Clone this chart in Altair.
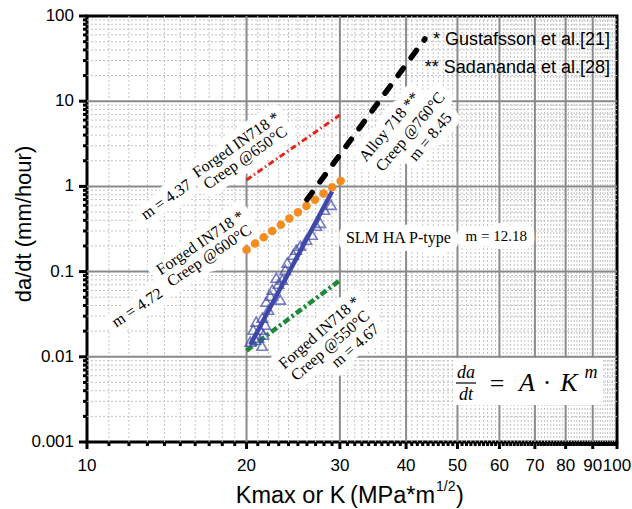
import altair as alt
import pandas as pd

# ---------------- data ----------------
red_k = [20.0, 30.0]
red_r = [1.19, 6.9]
orange_k = [20.0, 30.5]
orange_r = [0.18, 1.23]
green_k = [20.0, 30.0]
green_r = [0.0118, 0.079]
black_k = [26.0, 43.4]
black_r = [0.70, 53.7]
blue_k = [20.33, 29.0]
blue_r = [0.0139, 0.87]

tri_k = [28.87, 27.55, 26.58, 25.26, 24.50, 23.87, 23.36, 23.15, 22.18, 21.99,
         21.70, 21.51, 21.39, 21.05, 22.76, 22.37, 21.42, 20.86, 20.59, 25.94,
         27.08, 28.04, 23.67, 22.97, 21.79, 21.23, 20.33, 24.82, 20.78]
tri_r = [0.608, 0.374, 0.271, 0.201, 0.158, 0.127, 0.0804, 0.0469, 0.0522, 0.0357,
         0.0238, 0.0182, 0.0135, 0.0168, 0.0848, 0.0614, 0.0288, 0.0259, 0.0208, 0.237,
         0.345, 0.532, 0.105, 0.0721, 0.0444, 0.0208, 0.0151, 0.181, 0.0159]

x_ticks = [10, 20, 30, 40, 50, 60, 70, 80, 90, 100]
x_tick_labels = ["10", "20", "30", "40", "50", "60", "70", "80", "90", "100"]
y_ticks = [0.001, 0.01, 0.1, 1, 10, 100]
y_tick_labels = ["0.001", "0.01", "0.1", "1", "10", "100"]
x_major_grid = [20, 30, 40, 50, 60, 70, 80, 90]
y_major_grid = [0.01, 0.1, 1, 10]
x_minor = [k for k in range(11, 100) if k % 10 != 0]
y_minor = [m * 10.0 ** e for e in range(-3, 2) for m in range(2, 10)]

ann_text = ["Forged IN718 *", "Creep @650°C", "m = 4.37",
            "Forged IN718 *", "Creep @600°C", "m = 4.72",
            "Forged IN718 *", "Creep @550°C", "m = 4.67",
            "Alloy 718 **", "Creep @760°C", "m = 8.45",
            "SLM HA P-type", "m = 12.18"]
ann_k = [19.12, 19.89, 14.10, 16.36, 17.01, 12.44, 27.44, 28.78, 32.08,
         37.19, 40.74, 44.44, 38.68, 59.19]
ann_r = [3.075, 2.164, 0.70, 0.218, 0.1536, 0.0378, 0.01922, 0.01352, 0.01352,
         5.00, 4.37, 3.82, 0.2496, 0.2636]
ann_angle = [325, 325, 325, 326, 326, 326, 319, 319, 319, 310, 310, 310, 0, 0]
ann_size = [16, 16, 16, 16, 16, 16, 16, 16, 16, 16, 16, 16, 16, 15]

# ---------------- scales ----------------
xs = alt.Scale(type="log", domain=[10, 100])
ys = alt.Scale(type="log", domain=[0.001, 100])
SANS = "Liberation Sans"
SERIF = "Liberation Serif"


def xenc(field):
    return alt.X(field, type="quantitative", scale=xs, axis=None)


def yenc(field):
    return alt.Y(field, type="quantitative", scale=ys, axis=None)


# ---------------- grid ----------------
g_xmin = alt.Chart(pd.DataFrame({"k": x_minor})).mark_rule(
    color="#c2c2c2", strokeWidth=1, strokeDash=[2, 2]).encode(x=xenc("k"))
g_ymin = alt.Chart(pd.DataFrame({"r": y_minor})).mark_rule(
    color="#c2c2c2", strokeWidth=1, strokeDash=[2, 2]).encode(y=yenc("r"))
g_xmaj = alt.Chart(pd.DataFrame({"k": x_major_grid})).mark_rule(
    color="#8a8a8a", strokeWidth=2).encode(x=xenc("k"))
g_ymaj = alt.Chart(pd.DataFrame({"r": y_major_grid})).mark_rule(
    color="#8a8a8a", strokeWidth=2).encode(y=yenc("r"))

# ---------------- ticks and tick labels ----------------
t_ymaj = alt.Chart(pd.DataFrame({"r": y_ticks})).mark_rule(
    color="black", strokeWidth=3).encode(y=yenc("r"), x=alt.value(-8), x2=alt.value(0))
t_ymin = alt.Chart(pd.DataFrame({"r": y_minor})).mark_rule(
    color="black", strokeWidth=3).encode(y=yenc("r"), x=alt.value(-4), x2=alt.value(0))
t_xmaj = alt.Chart(pd.DataFrame({"k": x_ticks})).mark_rule(
    color="black", strokeWidth=3).encode(x=xenc("k"), y=alt.value(426), y2=alt.value(433))
t_xmin = alt.Chart(pd.DataFrame({"k": x_minor})).mark_rule(
    color="black", strokeWidth=3).encode(x=xenc("k"), y=alt.value(426), y2=alt.value(430))

xlab = alt.Chart(pd.DataFrame({"k": x_ticks, "t": x_tick_labels})).mark_text(
    font=SANS, fontSize=17, color="black", align="center", baseline="middle").encode(
    x=xenc("k"), y=alt.value(450), text="t:N")
ylab = alt.Chart(pd.DataFrame({"r": y_ticks, "t": y_tick_labels})).mark_text(
    font=SANS, fontSize=17, color="black", align="right", baseline="middle").encode(
    y=yenc("r"), x=alt.value(-13), text="t:N")

# ---------------- annotations ----------------
ann = pd.DataFrame({"k": ann_k, "r": ann_r, "t": ann_text, "a": ann_angle, "s": ann_size})
ann_enc = dict(x=xenc("k"), y=yenc("r"), text="t:N",
               angle=alt.Angle("a:Q", scale=None), size=alt.Size("s:Q", scale=None, legend=None))
halo = alt.Chart(ann).mark_text(font=SERIF, stroke="white", strokeWidth=16, strokeJoin="round",
                                fill="white", align="center", baseline="middle").encode(**ann_enc)
labels = alt.Chart(ann).mark_text(font=SERIF, color="black", align="center",
                                  baseline="middle").encode(**ann_enc)

# ---------------- series ----------------
def line(k, r, **kw):
    return alt.Chart(pd.DataFrame({"k": k, "r": r})).mark_line(**kw).encode(
        x=xenc("k"), y=yenc("r"))

red = line(red_k, red_r, color="#e3261c", strokeWidth=3, strokeDash=[6, 3, 1.5, 3])
orange = line(orange_k, orange_r, color="#f58c1f", strokeWidth=8.5, strokeCap="round",
              strokeDash=[0.1, 10.5])
green = line(green_k, green_r, color="#1c8a38", strokeWidth=4.5, strokeDash=[7, 3, 2.5, 3])
black = line(black_k, black_r, color="black", strokeWidth=5.5, strokeCap="round",
             strokeDash=[9, 13])
blue = line(blue_k, blue_r, color="#3f48a8", strokeWidth=4.5)

tri = alt.Chart(pd.DataFrame({"k": tri_k, "r": tri_r})).mark_point(
    shape="triangle-up", filled=False, color="#3f48a8", strokeWidth=1.6, size=110).encode(
    x=xenc("k"), y=yenc("r"))

# ---------------- free text ----------------
dummy = pd.DataFrame({"a": [0]})


def ptext(text, x, y, size, font=SANS, **kw):
    return alt.Chart(dummy).mark_text(text=text, fontSize=size, font=font, color="black",
                                      **kw).encode(x=alt.value(x), y=alt.value(y))


ytitle = ptext("da/dt (mm/hour)", -63, 208, 22, angle=270, align="center", baseline="middle")
xt1 = ptext("Kmax or K\u2009(MPa*m", 348, 487, 23.5, align="right", baseline="alphabetic")
xt2 = ptext("1/2", 349, 475, 14, align="left", baseline="alphabetic")
xt3 = ptext(")", 369, 487, 23.5, align="left", baseline="alphabetic")
leg1 = ptext("* Gustafsson et al.[21]", 523, 24, 18, align="right", baseline="middle")
leg2 = ptext("** Sadananda et al.[28]", 523, 52, 18, align="right", baseline="middle")

fbox = alt.Chart(dummy).mark_rect(color="white").encode(
    x=alt.value(366), x2=alt.value(516), y=alt.value(342), y2=alt.value(389))
fbar = alt.Chart(dummy).mark_rule(color="black", strokeWidth=1.2).encode(
    x=alt.value(369), x2=alt.value(389), y=alt.value(367))
f_da = ptext("da", 379, 357, 18, font=SERIF, fontStyle="italic", align="center", baseline="middle")
f_dt = ptext("dt", 379, 379, 18, font=SERIF, fontStyle="italic", align="center", baseline="middle")
f_eq = ptext("=", 410, 368, 26, font=SERIF, align="center", baseline="middle")
f_A = ptext("A", 440, 367, 26, font=SERIF, fontStyle="italic", align="center", baseline="middle")
f_dot = ptext("·", 460, 367, 26, font=SERIF, align="center", baseline="middle")
f_K = ptext("K", 482, 367, 26, font=SERIF, fontStyle="italic", align="center", baseline="middle")
f_m = ptext("m", 504, 357, 18, font=SERIF, fontStyle="italic", align="center", baseline="middle")

chart = alt.layer(
    g_xmin, g_ymin, g_xmaj, g_ymaj, fbox, halo,
    red, orange, green, black, blue, tri, labels,
    t_ymaj, t_ymin, t_xmaj, t_xmin, xlab, ylab,
    ytitle, xt1, xt2, xt3, leg1, leg2,
    fbar, f_da, f_dt, f_eq, f_A, f_dot, f_K, f_m,
).properties(
    width=530, height=426,
    padding={"left": 87, "top": 16, "right": 15, "bottom": 67},
    autosize=alt.AutoSizeParams(type="none"),
).configure_view(stroke="black", strokeWidth=3)

chart.save("out.html", embed_options={"renderer": "svg", "actions": False})
